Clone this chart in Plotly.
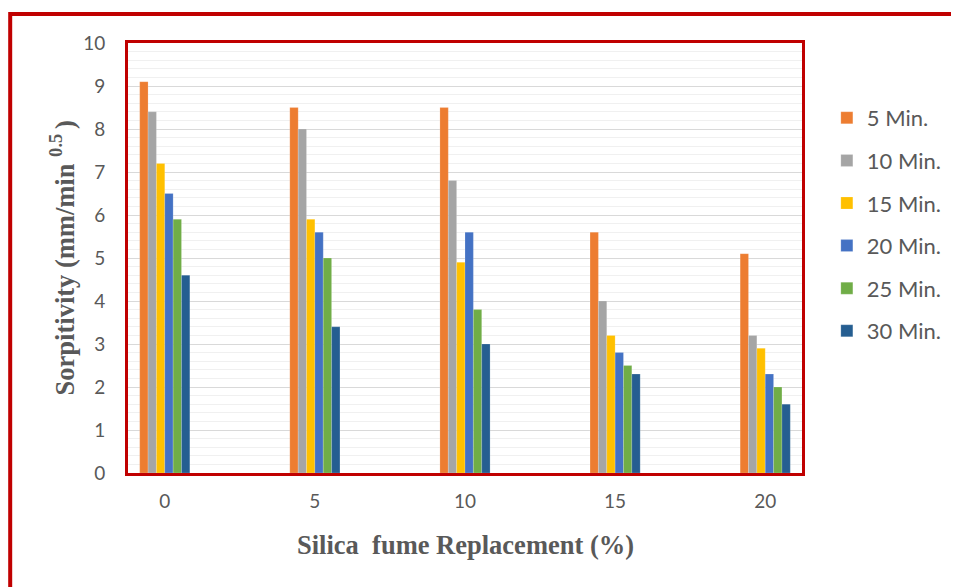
import plotly.graph_objects as go

categories = ["0", "5", "10", "15", "20"]
series_names = ["5 Min.", "10 Min.", "15 Min.", "20 Min.", "25 Min.", "30 Min."]
v5 = [9.1, 8.5, 8.5, 5.6, 5.1]
v10 = [8.4, 8.0, 6.8, 4.0, 3.2]
v15 = [7.2, 5.9, 4.9, 3.2, 2.9]
v20 = [6.5, 5.6, 5.6, 2.8, 2.3]
v25 = [5.9, 5.0, 3.8, 2.5, 2.0]
v30 = [4.6, 3.4, 3.0, 2.3, 1.6]
series_values = [v5, v10, v15, v20, v25, v30]
colors = ["#ED7D31", "#A5A5A5", "#FFC000", "#4472C4", "#70AD47", "#255E91"]

# page body has an 8px margin: work in reference-pixel coordinates and shift
OFF = 8
W, H = 959 - OFF, 587 - OFF
L, R, T, B = 128, 806, 43, 473  # plot area in reference pixels


def px(x):
    return (x - L) / (R - L)


def py(y):
    return (B - y) / (B - T)


fig = go.Figure()
for name, vals, c in zip(series_names, series_values, colors):
    fig.add_trace(go.Bar(
        x=categories, y=vals, name=name, marker_color=c,
        marker_line=dict(color="rgba(255,255,255,0.35)", width=0.5),
        legendgroup=name,
    ))

text_col = "#595959"
fig.update_layout(
    width=W, height=H,
    margin=dict(l=L - OFF, r=W - (R - OFF), t=T - OFF, b=H - (B - OFF)),
    paper_bgcolor="white", plot_bgcolor="white",
    barmode="group", bargap=0.666, bargroupgap=0,
    font=dict(family="Lato", size=19, color=text_col),
    showlegend=True,
    legend=dict(x=px(831), y=py(97), xanchor="left", yanchor="top",
                traceorder="grouped", tracegroupgap=11,
                font=dict(family="Lato", size=22, color=text_col),
                bgcolor="rgba(0,0,0,0)"),
    xaxis=dict(type="category", range=[-0.245, 4.245], showgrid=False,
               showline=True, linecolor="#C00000", linewidth=3, mirror=True,
               ticks="", ticklabelstandoff=9,
               tickfont=dict(family="Lato", size=19, color=text_col)),
    yaxis=dict(range=[0, 10], dtick=1, showgrid=True, gridcolor="#D9D9D9", gridwidth=1,
               minor=dict(dtick=0.2, showgrid=True, gridcolor="#F0F0F0", gridwidth=1),
               showline=True, linecolor="#C00000", linewidth=3, mirror=True,
               zeroline=False, ticks="", ticklabelstandoff=16,
               tickfont=dict(family="Lato", size=19, color=text_col)),
    annotations=[
        dict(text="Sorpitivity (mm/min <sup>0.5 </sup>)", xref="paper", yref="paper",
             x=px(62), y=py(258), textangle=-90, showarrow=False,
             xanchor="center", yanchor="middle",
             font=dict(family="Liberation Serif", size=26.5, color=text_col, weight="bold")),
        dict(text="Silica  fume Replacement (%)", xref="paper", yref="paper",
             x=px(467), y=py(545), showarrow=False, xanchor="center", yanchor="middle",
             font=dict(family="Liberation Serif", size=26.5, color=text_col, weight="bold")),
    ],
    shapes=[
        dict(type="rect", xref="paper", yref="paper", x0=px(-2), x1=px(7), y0=py(300), y1=py(155),
             fillcolor="#DDF7FA", line=dict(width=0), layer="below"),
        dict(type="rect", xref="paper", yref="paper", x0=px(-2), x1=px(7), y0=py(600), y1=py(305),
             fillcolor="#FDE8E8", line=dict(width=0), layer="below"),
        dict(type="rect", xref="paper", yref="paper", x0=px(9.5), x1=px(975), y0=py(600), y1=py(14),
             fillcolor="rgba(0,0,0,0)", line=dict(color="#C00000", width=4)),
    ],
)

fig.write_html("out.html")
